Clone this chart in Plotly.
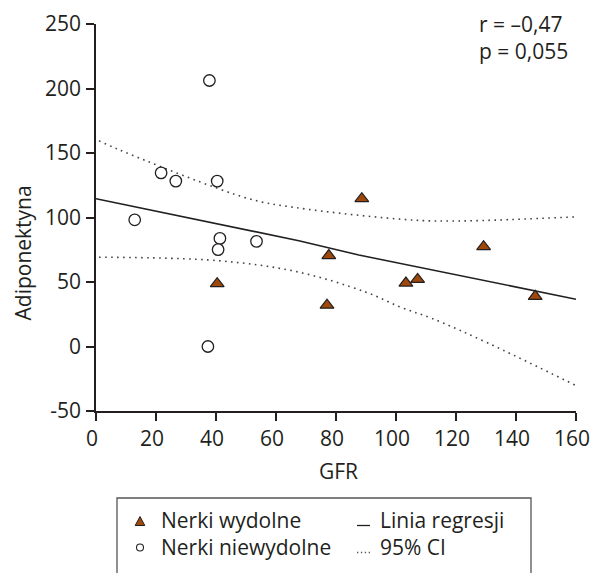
import plotly.graph_objects as go

# --- data ---
gfr_niewydolne = [37.8, 21.7, 26.6, 40.4, 12.9, 41.3, 40.7, 53.5, 37.3]
adipo_niewydolne = [206.2, 134.6, 128.2, 128.2, 98.2, 83.8, 75.1, 81.5, 0.0]

gfr_wydolne = [40.4, 88.6, 77.6, 129.2, 103.3, 107.2, 146.4, 77.0]
adipo_wydolne = [48.7, 114.6, 70.5, 77.4, 49.2, 52.0, 38.9, 32.0]

reg_x = [0, 67.6, 87.6, 160]
reg_y = [114.6, 82.0, 71.0, 36.6]

ci_up_x = [1, 7.7, 50.9, 66.5, 106.4, 123.1, 160]
ci_up_y = [159.5, 152.5, 114.6, 107.7, 97.9, 97.4, 100.5]

ci_lo_x = [1, 40.3, 66.5, 89.8, 102, 112, 130.8, 160]
ci_lo_y = [69.2, 66.6, 58.2, 42.3, 30.0, 21.8, 2.5, -30.3]

x_ticks = [0, 20, 40, 60, 80, 100, 120, 140, 160]
y_ticks = [-50, 0, 50, 100, 150, 200, 250]
y_ticktext = ["-50", "0", "50", "100", "150", "200", "250"]

legend_labels = ["Nerki wydolne", "Nerki niewydolne", "Linia regresji", "95% CI"]
stats_text = ["r = –0,47", "p = 0,055"]

INK = "#231f20"
BROWN = "#a0480c"
FONT = "Open Sans"
FS = 21

W, H = 598, 573
OFF = 8  # page body margin offset
L, R, T, B = 88, 30, 16, 170
PW, PH = W - L - R, H - T - B


def px(X):
    """window x pixel -> paper x"""
    return (X - OFF - L) / PW


def py(Y):
    """window y pixel -> paper y"""
    return (H - B - (Y - OFF)) / PH


fig = go.Figure()

# CI curves
fig.add_trace(go.Scatter(x=ci_up_x, y=ci_up_y, mode="lines",
                         line=dict(color="#444", width=1.6, dash="1.6px,4.4px", shape="spline"),
                         showlegend=False, hoverinfo="skip"))
fig.add_trace(go.Scatter(x=ci_lo_x, y=ci_lo_y, mode="lines",
                         line=dict(color="#444", width=1.6, dash="1.6px,4.4px", shape="spline"),
                         showlegend=False, hoverinfo="skip"))
# regression line
fig.add_trace(go.Scatter(x=reg_x, y=reg_y, mode="lines", line=dict(color=INK, width=1.6),
                         showlegend=False, hoverinfo="skip"))
# points
fig.add_trace(go.Scatter(x=gfr_niewydolne, y=adipo_niewydolne, mode="markers", name=legend_labels[1],
                         marker=dict(symbol="circle", size=11.5, color="white", line=dict(color=INK, width=1.3)),
                         showlegend=False))
fig.add_trace(go.Scatter(x=gfr_wydolne, y=adipo_wydolne, mode="markers", name=legend_labels[0],
                         marker=dict(symbol="triangle-up", size=12, color=BROWN, line=dict(color=INK, width=1.2)),
                         showlegend=False))

axis_common = dict(showline=True, linecolor=INK, linewidth=1.5, ticks="outside", ticklen=8,
                   tickwidth=1.5, tickcolor=INK, showgrid=False, zeroline=False, automargin=False,
                   tickfont=dict(family=FONT, size=FS, color=INK), mirror=False)

fig.update_xaxes(range=[0, 160], tickvals=x_ticks, ticklabelshift=-4, **axis_common)
fig.update_yaxes(range=[-50, 250], tickvals=y_ticks, ticktext=y_ticktext, ticklabelstandoff=1, **axis_common)

txt = dict(family=FONT, size=FS, color=INK)

# axis titles
fig.add_annotation(xref="paper", yref="paper", x=px(338), y=py(471), text="GFR", showarrow=False,
                   xanchor="center", yanchor="middle", font=txt)
fig.add_annotation(xref="paper", yref="paper", x=px(22.5), y=py(253), text="Adiponektyna", showarrow=False,
                   textangle=-90, xanchor="center", yanchor="middle", font=txt)

# statistics
fig.add_annotation(xref="paper", yref="paper", x=px(477), y=py(37), xanchor="left", yanchor="middle",
                   text="<br>".join(stats_text), showarrow=False, align="left", font=txt)

# legend frame (open at the bottom, extends beyond the page)
fig.add_shape(type="rect", xref="paper", yref="paper",
              x0=px(117), x1=px(531), y0=py(498), y1=py(660),
              line=dict(color="#555", width=1.3), fillcolor="rgba(0,0,0,0)")

# legend texts (two columns)
fig.add_annotation(xref="paper", yref="paper", x=px(159), y=py(533), xanchor="left", yanchor="middle",
                   text=legend_labels[0] + "<br>" + legend_labels[1], showarrow=False, align="left", font=txt)
fig.add_annotation(xref="paper", yref="paper", x=px(377.5), y=py(533), xanchor="left", yanchor="middle",
                   text=legend_labels[2] + "<br>" + legend_labels[3], showarrow=False, align="left", font=txt)

# legend symbols
fig.add_shape(type="path", xref="paper", yref="paper",
              path=f"M {px(140)} {py(516.5)} L {px(144.8)} {py(525.5)} L {px(135.2)} {py(525.5)} Z",
              fillcolor=BROWN, line=dict(color=INK, width=1))
fig.add_shape(type="circle", xref="paper", yref="paper",
              x0=px(136.5), x1=px(143.5), y0=py(544), y1=py(551),
              fillcolor="white", line=dict(color=INK, width=1.1))
fig.add_shape(type="line", xref="paper", yref="paper",
              x0=px(357), x1=px(370), y0=py(525.5), y1=py(525.5),
              line=dict(color=INK, width=1.3))
fig.add_shape(type="line", xref="paper", yref="paper",
              x0=px(357), x1=px(371), y0=py(552.5), y1=py(552.5),
              line=dict(color="#555", width=1.3, dash="1.3px,2.6px"))

fig.update_layout(
    width=W, height=H,
    margin=dict(l=L, r=R, t=T, b=B),
    plot_bgcolor="white", paper_bgcolor="white",
    font=dict(family=FONT, size=FS, color=INK),
    showlegend=False,
)

fig.write_html("out.html")
